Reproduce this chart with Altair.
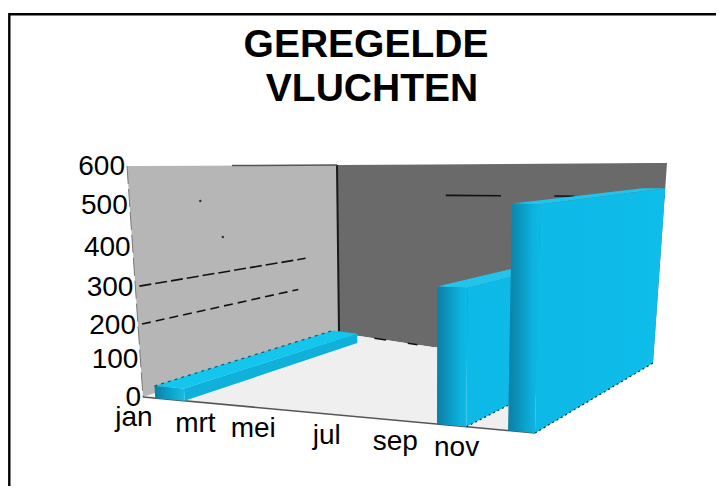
import altair as alt
import numpy as np
import pandas as pd

# ---- chart values -------------------------------------------------------
title_lines = ["GEREGELDE", "VLUCHTEN"]
month_labels = ["jan", "mrt", "mei", "jul", "sep", "nov"]
value_ticks = [0, 100, 200, 300, 400, 500, 600]
bar_names = ["jan", "okt", "dec"]
bar_values = [32, 337, 525]

# ---- 3D box calibration (layout, not data) ------------------------------
U_MAX = 16.0
tick_height = [0, .164, .312, .477, .649, .831, 1]
CORNERS = {
    (0, 0, 0): (143, 397), (0, 0, 1): (127, 166),
    (0, 1, 0): (339, 333), (0, 1, 1): (337, 165),
    (1, 0, 0): (535, 433), (1, 0, 1): (541, 171),
    (1, 1, 0): (653, 363), (1, 1, 1): (667, 163),
}
bar_u = [(0.5, 1.7, 0.92), (12.0, 13.2, 1.0), (14.9, 16.0, 1.0)]
label_u = [-0.37, 2.14, 4.5, 7.5, 10.3, 12.8]


def project(u, v, value):
    a = u / U_MAX
    w = float(np.interp(value, value_ticks, tick_height))
    x = y = 0.0
    for (i, j, k), (px, py) in CORNERS.items():
        f = (a if i else 1 - a) * (v if j else 1 - v) * (w if k else 1 - w)
        x += f * px
        y += f * py
    lin = 333 + 30 * a
    y += v * (1 - w) * (float(np.interp(u, [0, 4.75, 16], [333, 347, 363])) - lin)
    return x, y


def poly(points):
    """Upper and lower outline of a convex shape, for an area mark."""
    pts = points + points[:1]
    rows = []
    for x in sorted({round(p[0], 2) for p in points}):
        ys = []
        for (x0, y0), (x1, y1) in zip(pts, pts[1:]):
            lo, hi = min(x0, x1), max(x0, x1)
            if lo - 0.01 <= x <= hi + 0.01:
                if abs(x1 - x0) < 0.02:
                    ys += [y0, y1]
                else:
                    ys.append(y0 + (y1 - y0) * (x - x0) / (x1 - x0))
        rows.append({"x": x, "y": min(ys), "y2": max(ys)})
    return pd.DataFrame(rows)


sx = alt.Scale(domain=[8, 716], nice=False, zero=False)
sy = alt.Scale(domain=[486, 8], nice=False, zero=False)
X = alt.X("x:Q", scale=sx, axis=None)
Y = alt.Y("y:Q", scale=sy, axis=None)


def face(points, color):
    return alt.Chart(poly(points)).mark_area(color=color, interpolate="linear", strokeWidth=0).encode(
        x=X, y=Y, y2="y2:Q")


def line(points, color="#111111", width=1.5, dash=None):
    df = pd.DataFrame(points, columns=["x", "y"]).assign(i=range(len(points)))
    kw = {"strokeDash": dash} if dash else {}
    return alt.Chart(df).mark_line(color=color, strokeWidth=width, **kw).encode(
        x=X, y=Y, order="i:Q")


def grad(c0, c1, c2=None):
    stops = [alt.GradientStop(color=c0, offset=0), alt.GradientStop(color=c1, offset=0.75 if c2 else 1)]
    if c2:
        stops.append(alt.GradientStop(color=c2, offset=1))
    return alt.Gradient(gradient="linear", stops=stops, x1=0, x2=1, y1=0, y2=0)


layers = []
# walls and floor
layers.append(face([project(0, 0, 600), project(0, 1, 600), project(0, 1, 0), project(0, 0, 0)], "#b6b6b6"))
layers.append(face([project(0, 1, 600), project(16, 1, 600), project(16, 1, 0), project(4.75, 1, 0), project(0, 1, 0)], "#6a6a6a"))
layers.append(face([project(0, 0, 0), project(0, 1, 0), project(4.75, 1, 0), project(16, 1, 0), project(16, 0, 0)], "#efefef"))

# remains of the gridlines
layers.append(line([project(0, 0.02, 300), project(0, 0.84, 300)], width=1.6, dash=[12, 4]))
layers.append(line([project(0, 0.02, 200), project(0, 0.8, 200)], width=1.6, dash=[9, 5]))
dots = [project(0, .34, 500), project(0, .44, 400)]
layers.append(alt.Chart(pd.DataFrame(dots, columns=["x", "y"])).mark_point(
    filled=True, color="#333333", size=6, opacity=1).encode(x=X, y=Y))
for u0, u1 in [(5.3, 8.0), (10.6, 11.6), (15.7, 16)]:
    layers.append(line([project(u0, 1, 500), project(u1, 1, 500)], width=1.6))
for u0, u1 in [(1.8, 2.4), (3.5, 4.0)]:
    layers.append(line([project(u0, 1, 0), project(u1, 1, 0)], width=1.6))

# box edges
layers.append(line([project(0, 1, 600), project(0, 1, 0)], color="#1a1a1a", width=2))
layers.append(line([project(0, .5, 600), project(0, 1, 600)], color="#555555", width=1.5))
layers.append(line([project(0, 0, 600), project(0, 0, 0)], color="#777777", width=1, dash=[18, 5]))
layers.append(line([project(0, 0, 0), project(16, 0, 0)], color="#555555", width=1.5))

# bars
for (u0, u1, vb), val in zip(bar_u, bar_values):
    fbl, fbr, ftl, ftr = project(u0, 0, 0), project(u1, 0, 0), project(u0, 0, val), project(u1, 0, val)
    bbr, btr, btl = project(u1, vb, 0), project(u1, vb, val), project(u0, vb, val)
    if val > 100:
        layers.append(face([ftl, btl, btr, ftr], "#22c4ec"))
        layers.append(alt.Chart(poly([ftr, btr, bbr, fbr])).mark_area(
            color=grad("#0db9e6", "#0fbdea")).encode(x=X, y=Y, y2="y2:Q"))
        layers.append(alt.Chart(poly([ftl, ftr, fbr, fbl])).mark_area(
            color=grad("#0a7fa6", "#0cb0dc", "#0dbbe8")).encode(x=X, y=Y, y2="y2:Q"))
        layers.append(line([fbr, bbr], color="#0b2a33", width=1.2, dash=[2, 3]))
    else:
        layers.append(face([ftr, btr, bbr, fbr], "#0fb0da"))
        layers.append(face([ftl, btl, btr, ftr], "#14c6ee"))
        layers.append(alt.Chart(poly([ftl, ftr, fbr, fbl])).mark_area(
            color=grad("#0a7fa6", "#12bfe8")).encode(x=X, y=Y, y2="y2:Q"))
        layers.append(line([ftl, btl], color="#0a5a75", width=1.2, dash=[3, 4]))

# value labels
rows = []
for val in value_ticks:
    px, py = project(0, 0, val)
    rows.append({"x": px - 2, "y": py + 1, "t": str(val)})
val_text = alt.Chart(pd.DataFrame(rows)).mark_text(
    font="Liberation Sans", fontSize=28, align="right", baseline="middle", color="black"
).encode(x=X, y=Y, text="t:N")
layers.append(val_text)

# month labels
rows = []
for name, u in zip(month_labels, label_u):
    px, py = project(u, 0, 0)
    rows.append({"x": px, "y": py + 22, "t": name})
layers.append(alt.Chart(pd.DataFrame(rows)).mark_text(
    font="Liberation Sans", fontSize=28, align="center", baseline="middle", color="black"
).encode(x=X, y=Y, text="t:N"))

# title
title_df = pd.DataFrame({"x": [366, 372], "y": [45, 89], "t": title_lines})
layers.append(alt.Chart(title_df).mark_text(
    font="Liberation Sans", fontSize=39, fontWeight="bold", align="center", baseline="middle", color="black"
).encode(x=X, y=Y, text="t:N"))

# frame: only the top and left edges are in the picture
layers.append(line([(9.3, 486), (9.3, 14.2), (716, 14.2)], color="black", width=2.4))

chart = alt.layer(*layers).properties(
    width=708, height=478, padding=0, autosize="none", background="white"
).configure_view(stroke=None)

chart.save("out.html", embed_options={"renderer": "svg", "actions": False})
